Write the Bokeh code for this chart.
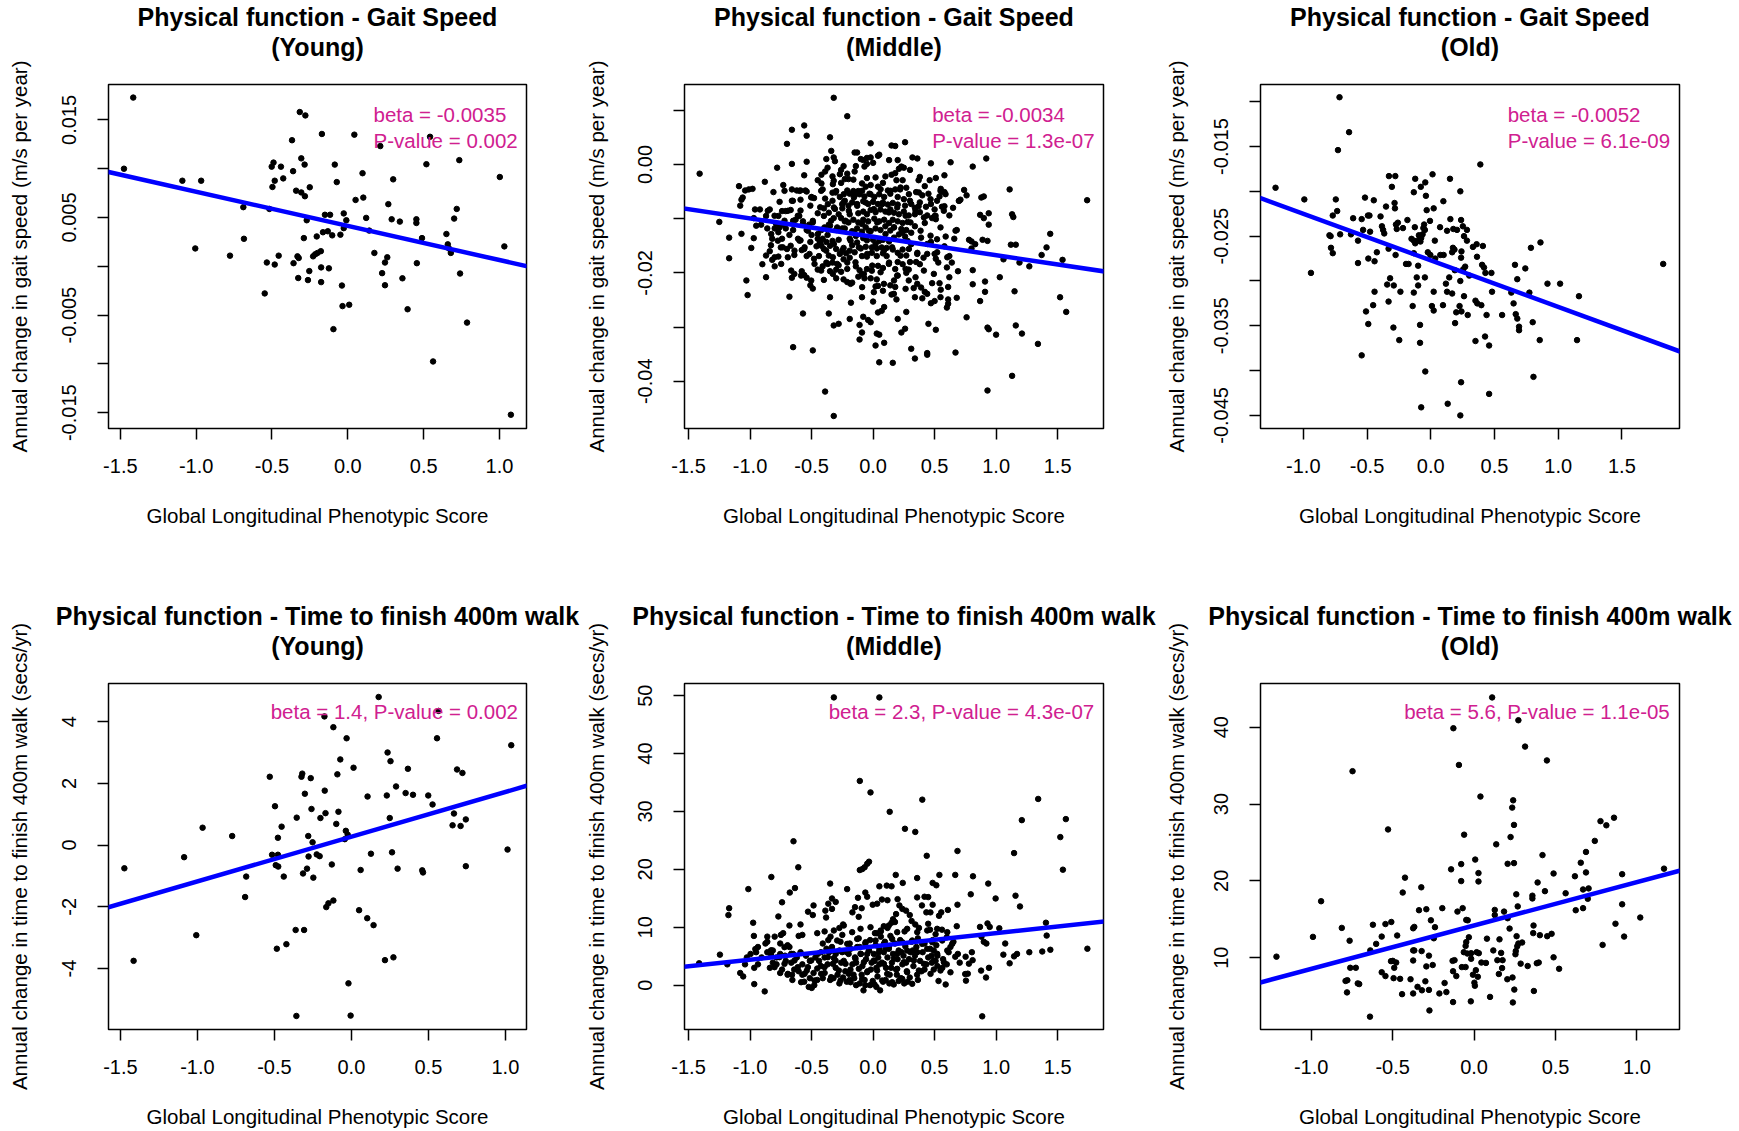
from bokeh.plotting import figure
from bokeh.models import Range1d, FixedTicker, PrintfTickFormatter, Slope, Label, Title
from bokeh.layouts import column, row
from bokeh.embed import file_html
from bokeh.resources import INLINE

FONT = "Liberation Sans"
PINK = "#D02090"

# ---------------- data (x = Global Longitudinal Phenotypic Score) ----------------
young_gait = [(-1.415, 0.01729), (-1.476, 0.0100), (-1.091, 0.00877), (-0.967, 0.00877), (-1.006, 0.00183),
    (-0.777, 0.00109), (-0.689, 0.00606), (-0.685, 0.00282), (-0.548, -0.00278), (-0.534, 0.00039),
    (-0.517, 0.00588), (-0.502, 0.01021), (-0.490, 0.01063), (-0.497, 0.00813), (-0.482, 0.00877),
    (-0.482, 0.00018), (-0.456, 0.00109), (-0.441, 0.01021), (-0.426, 0.00901), (-0.368, 0.01292),
    (-0.361, 0.00975), (-0.358, 0.00032), (-0.341, 0.00775), (-0.332, 0.00102), (-0.324, 0.00085),
    (-0.327, -0.00120), (-0.317, 0.01581), (-0.307, 0.01106), (-0.307, 0.00757), (-0.290, 0.00289),
    (-0.285, 0.01042), (-0.283, 0.00718), (-0.280, 0.01546), (-0.271, 0.00472), (-0.263, -0.00141),
    (-0.254, -0.00049), (-0.251, 0.00810), (-0.229, 0.00102), (-0.215, 0.00123), (-0.205, 0.00306),
    (-0.200, 0.00137), (-0.178, 0.00155), (-0.176, -0.00011), (-0.176, -0.00162), (-0.171, 0.01356),
    (-0.164, 0.00349), (-0.151, 0.00528), (-0.132, 0.00359), (-0.125, -0.00021), (-0.117, 0.00528),
    (-0.103, 0.00317), (-0.095, -0.00644), (-0.086, 0.01042), (-0.073, 0.00863), (-0.049, 0.00324),
    (-0.039, -0.00197), (-0.035, -0.00408), (-0.027, 0.00542), (-0.027, 0.00391), (-0.010, 0.00472),
    (0.009, -0.00394), (0.043, 0.01349), (0.051, 0.00680), (0.097, 0.00954), (0.102, 0.00704),
    (0.121, 0.00496), (0.141, 0.00366), (0.175, 0.00137), (0.214, 0.01232), (0.226, -0.00070),
    (0.245, -0.00194), (0.245, 0.00039), (0.260, 0.00092), (0.267, 0.00637), (0.289, 0.00482),
    (0.299, 0.00891), (0.343, 0.00458), (0.360, -0.00123), (0.394, -0.00440), (0.452, 0.00482),
    (0.452, 0.00444), (0.455, 0.00032), (0.489, 0.00289), (0.518, 0.01046), (0.542, 0.01327),
    (0.562, -0.00975), (0.650, 0.00331), (0.659, 0.00225), (0.667, 0.00183), (0.679, 0.00137),
    (0.701, 0.00489), (0.718, 0.00588), (0.735, 0.01088), (0.740, -0.00074), (0.786, -0.00577),
    (1.002, 0.00915), (1.032, 0.00204), (1.075, -0.01521)]

middle_gait = [(-0.32, 0.0123), (-0.21, 0.0089), (-0.56, 0.0072), (-0.66, 0.0064), (-0.54, 0.0053),
    (-0.70, 0.0038), (-0.35, 0.0050), (-0.02, 0.0039), (0.15, 0.0035), (0.18, 0.0034), (0.26, 0.0041),
    (-1.41, -0.0017), (0.92, 0.0011), (0.81, -0.0004), (0.63, 0.0004), (0.47, 0.0002), (0.58, -0.0020),
    (0.32, 0.0013), (0.36, 0.0011), (1.11, -0.0046), (1.74, -0.0066), (1.13, -0.0092), (1.14, -0.0097),
    (0.94, -0.0090), (0.87, -0.0093), (0.90, -0.0099), (0.94, -0.0111), (1.44, -0.0128), (1.41, -0.0153),
    (1.37, -0.0167), (1.54, -0.0176), (1.27, -0.0188), (1.19, -0.0181), (1.12, -0.0148), (1.16, -0.0148),
    (1.06, -0.0175), (1.03, -0.0208), (0.91, -0.0216), (0.91, -0.0235), (0.87, -0.0252), (1.15, -0.0234),
    (1.52, -0.0245), (1.57, -0.0272), (1.16, -0.0297), (1.21, -0.0312), (1.34, -0.0331), (0.94, -0.0304),
    (0.93, -0.0301), (1.00, -0.0314), (1.13, -0.0390), (0.93, -0.0417), (0.67, -0.0347), (0.76, -0.0282),
    (0.44, -0.0348), (0.44, -0.0351), (0.34, -0.0358), (0.31, -0.0340), (0.16, -0.0366), (0.05, -0.0365),
    (0.09, -0.0329), (0.02, -0.0334), (0.05, -0.0314), (0.03, -0.0312), (-0.09, -0.0310), (-0.11, -0.0323),
    (-0.11, -0.0296), (-0.08, -0.0281), (-0.04, -0.0287), (-0.02, -0.0291), (0.04, -0.0273), (0.07, -0.0270),
    (0.09, -0.0263), (0.20, -0.0285), (0.23, -0.0310), (0.26, -0.0303), (0.27, -0.0272), (0.45, -0.0294),
    (0.51, -0.0305), (-0.19, -0.0285), (-0.28, -0.0294), (-0.32, -0.0297), (-0.36, -0.0275), (-0.35, -0.0245),
    (-0.18, -0.0255), (-0.09, -0.0245), (0.00, -0.0253), (-0.39, -0.0419), (-0.32, -0.0464), (-0.65, -0.0337),
    (-0.49, -0.0343), (-0.57, -0.0275), (-0.68, -0.0244), (-1.02, -0.0241), (-1.03, -0.0214), (-0.87, -0.0208),
    (-1.17, -0.0173), (-1.17, -0.0135), (-1.25, -0.0106), (-1.07, -0.0128), (-0.99, -0.0154), (-0.97, -0.0136),
    (-0.95, -0.0113), (-0.96, -0.0083), (-1.08, -0.0076), (-1.07, -0.0065), (-1.06, -0.0061), (-1.09, -0.0040),
    (-1.04, -0.0048), (-1.01, -0.0046), (-0.98, -0.0045), (-0.88, -0.0032), (-0.81, -0.0051), (-0.84, -0.0083),
    (-0.87, -0.0095), (-0.90, -0.0184), (-0.78, -0.0006), (-0.73, -0.0038), (-0.66, 0.0001), (-0.54, 0.0005),
    (-0.56, -0.0020), (-0.76, -0.0069), (-0.79, -0.0109), (-0.80, -0.0118), (-0.77, -0.0125), (-0.74, -0.0137),
    (-0.75, -0.0153), (-0.77, -0.0170), (-0.82, -0.0176), (-0.80, -0.0188), (-0.87, -0.0168), (-0.84, -0.0160),
    (-0.83, -0.0149), (-0.71, -0.0118), (-0.71, -0.0086), (-0.67, -0.0084), (-0.66, -0.0067), (-0.66, -0.0046),
    (-0.62, -0.0048), (-0.59, -0.0048), (-0.55, -0.0048), (-0.54, -0.0050), (-0.59, -0.0065), (-0.59, -0.0085),
    (-0.63, -0.0102), (-0.65, -0.0104), (-0.61, -0.0137), (-0.59, -0.0140), (-0.58, -0.0158), (-0.64, -0.0167),
    (-0.64, -0.0202), (-0.66, -0.0209), (-0.58, -0.0197), (-0.56, -0.0204), (-0.54, -0.0209), (-0.51, -0.0223),
    (-0.49, -0.0229), (-0.45, -0.0194), (-0.48, -0.0174), (-0.44, -0.0169), (-0.40, -0.0156), (-0.43, -0.0142),
    (-0.46, -0.0151), (-0.50, -0.0130), (-0.52, -0.0111), (-0.49, -0.0104), (-0.45, -0.0090), (-0.43, -0.0079),
    (-0.40, -0.0081), (-0.39, -0.0063), (-0.41, -0.0046), (-0.42, -0.0035), (-0.39, -0.0013), (-0.37, -0.0006),
    (-0.38, 0.0010), (-0.34, 0.0025), (-0.32, 0.0013), (-0.31, 0.0006), (-0.33, -0.0022), (-0.32, -0.0030),
    (-0.33, -0.0052), (-0.33, -0.0067), (-0.31, -0.0082), (-0.32, -0.0099), (-0.35, -0.0113), (-0.37, -0.0130),
    (-0.33, -0.0141), (-0.35, -0.0150), (-0.36, -0.0168), (-0.33, -0.0181), (-0.28, -0.0186), (-0.26, -0.0198),
    (-0.30, -0.0210), (-0.35, -0.0197), (-0.40, -0.0213), (-0.24, -0.0212), (-0.21, -0.0217), (-0.17, -0.0218),
    (-0.12, -0.0207), (-0.11, -0.0195), (-0.14, -0.0188), (-0.19, -0.0172), (-0.22, -0.0164), (-0.24, -0.0154),
    (-0.28, -0.0139), (-0.25, -0.0118), (-0.23, -0.0105), (-0.19, -0.0092), (-0.26, -0.0099), (-0.25, -0.0081),
    (-0.24, -0.0070), (-0.27, -0.0060), (-0.30, -0.0049), (-0.26, -0.0034), (-0.23, -0.0027), (-0.20, -0.0027),
    (-0.16, -0.0028), (-0.15, -0.0013), (-0.14, -0.0003), (-0.15, 0.0022), (-0.13, 0.0022), (-0.10, 0.0010),
    (-0.08, 0.0008), (-0.05, 0.0012), (-0.02, 0.0013), (-0.07, -0.0004), (-0.05, 0.0001), (0.00, 0.0003),
    (0.04, 0.0016), (0.05, 0.0018), (0.13, 0.0008), (0.20, 0.0008), (0.21, -0.0008), (0.23, -0.0004),
    (0.25, -0.0006), (0.30, -0.0010), (0.38, -0.0023), (0.42, -0.0040), (0.55, -0.0045), (0.56, -0.0050),
    (0.58, -0.0051), (0.54, -0.0059), (0.70, -0.0067), (0.71, -0.0065), (0.74, -0.0047), (0.76, -0.0057),
    (0.88, -0.0061), (0.90, -0.0059), (0.56, -0.0078), (0.58, -0.0077), (0.65, -0.0080), (0.62, -0.0094),
    (0.50, -0.0083), (0.50, -0.0095), (0.48, -0.0099), (0.44, -0.0094), (0.37, -0.0077), (0.34, -0.0092),
    (0.38, -0.0088), (0.42, -0.0108), (0.51, -0.0101), (0.68, -0.0121), (0.66, -0.0137), (0.59, -0.0133),
    (0.52, -0.0138), (0.58, -0.0151), (0.47, -0.0143), (0.39, -0.0135), (0.44, -0.0165), (0.50, -0.0165),
    (0.51, -0.0174), (0.53, -0.0181), (0.41, -0.0172), (0.36, -0.0163), (0.35, -0.0180), (0.38, -0.0184),
    (0.62, -0.0169), (0.60, -0.0190), (0.69, -0.0197), (0.64, -0.0181), (0.78, -0.0139), (0.80, -0.0142),
    (0.83, -0.0147), (0.80, -0.0155), (0.89, -0.0139), (0.93, -0.0141), (0.81, -0.0195), (0.81, -0.0221),
    (0.62, -0.0208), (0.61, -0.0226), (0.68, -0.0246), (0.61, -0.0249), (0.61, -0.0257), (0.60, -0.0264),
    (0.54, -0.0219), (0.55, -0.0231), (0.48, -0.0219), (0.50, -0.0252), (0.47, -0.0256), (0.40, -0.0247),
    (0.42, -0.0235), (0.39, -0.0227), (0.34, -0.0245), (0.33, -0.0228), (0.29, -0.0214), (0.27, -0.0200),
    (0.29, -0.0194), (0.24, -0.0184), (0.20, -0.0180), (0.18, -0.0193), (0.20, -0.0205), (0.17, -0.0214),
    (0.14, -0.0223), (0.18, -0.0226), (0.15, -0.0240), (0.19, -0.0249), (0.08, -0.0233), (0.04, -0.0224),
    (0.02, -0.0225), (0.03, -0.0212), (-0.02, -0.0210), (-0.07, -0.0210), (-0.09, -0.0203), (-0.05, -0.0193),
    (-0.01, -0.0196), (0.04, -0.0187), (0.08, -0.0191), (0.13, -0.0181), (0.11, -0.0169), (0.08, -0.0164),
    (0.03, -0.0169), (-0.01, -0.0163), (-0.05, -0.0170), (-0.09, -0.0169), (-0.10, -0.0155), (-0.06, -0.0152),
    (-0.01, -0.0153), (0.03, -0.0155), (0.07, -0.0153), (0.11, -0.0154), (0.16, -0.0157), (0.20, -0.0163),
    (0.24, -0.0157), (0.27, -0.0168), (0.30, -0.0180), (0.31, -0.0147), (0.28, -0.0141), (0.26, -0.0133),
    (0.21, -0.0129), (0.17, -0.0135), (0.13, -0.0142), (0.08, -0.0139), (0.05, -0.0141), (0.00, -0.0139),
    (-0.05, -0.0140), (-0.08, -0.0136), (-0.13, -0.0144), (-0.17, -0.0149), (-0.19, -0.0159), (-0.15, -0.0162),
    (-0.14, -0.0132), (-0.19, -0.0137), (-0.17, -0.0123), (-0.13, -0.0118), (-0.09, -0.0124), (-0.06, -0.0116),
    (-0.02, -0.0123), (0.02, -0.0118), (0.06, -0.0121), (0.10, -0.0114), (0.14, -0.0122), (0.17, -0.0116),
    (0.23, -0.0119), (0.27, -0.0121), (0.31, -0.0126), (0.34, -0.0114), (0.28, -0.0106), (0.24, -0.0108),
    (0.20, -0.0105), (0.16, -0.0102), (0.13, -0.0108), (0.09, -0.0102), (0.05, -0.0105), (0.01, -0.0100),
    (-0.04, -0.0105), (-0.08, -0.0102), (-0.12, -0.0107), (-0.16, -0.0102), (-0.20, -0.0107), (-0.23, -0.0118),
    (-0.12, -0.0090), (-0.08, -0.0087), (-0.05, -0.0092), (-0.02, -0.0084), (0.02, -0.0088), (0.06, -0.0083),
    (0.10, -0.0087), (0.14, -0.0083), (0.17, -0.0089), (0.21, -0.0092), (0.25, -0.0087), (0.29, -0.0094),
    (0.34, -0.0080), (0.31, -0.0073), (0.26, -0.0076), (0.20, -0.0074), (0.16, -0.0071), (0.12, -0.0074),
    (0.08, -0.0070), (0.04, -0.0073), (0.00, -0.0069), (-0.04, -0.0073), (-0.08, -0.0068), (-0.13, -0.0073),
    (-0.17, -0.0070), (-0.20, -0.0076), (-0.15, -0.0057), (-0.11, -0.0055), (-0.07, -0.0059), (-0.03, -0.0054),
    (0.01, -0.0060), (0.05, -0.0055), (0.09, -0.0060), (0.14, -0.0054), (0.18, -0.0046), (0.22, -0.0046),
    (0.27, -0.0043), (0.20, -0.0060), (0.25, -0.0064), (0.30, -0.0067), (-0.06, -0.0041), (-0.09, -0.0035),
    (-0.02, -0.0038), (0.02, -0.0024), (0.04, -0.0041), (0.08, -0.0034), (0.12, -0.0048), (0.10, -0.0022),
    (-0.05, -0.0025), (-0.12, -0.0049), (-0.16, -0.0049), (-0.21, -0.0048), (0.35, -0.0051), (0.40, -0.0057),
    (0.45, -0.0054), (0.38, -0.0070), (0.43, -0.0078), (0.47, -0.0073), (0.52, -0.0067), (0.46, -0.0029),
    (0.51, -0.0025), (0.37, -0.0029), (0.24, -0.0029), (0.19, -0.0029), (0.15, -0.0019), (0.18, -0.0016),
    (-0.26, -0.0010), (-0.24, -0.0003), (-0.21, -0.0017), (-0.27, -0.0018), (-0.42, -0.0019), (-0.45, -0.0029),
    (-0.50, -0.0060), (-0.48, -0.0062), (-0.51, -0.0076), (-0.40, -0.0095), (-0.36, -0.0089), (-0.28, -0.0092),
    (-0.23, -0.0067), (-0.19, -0.0054), (-0.36, -0.0111), (-0.30, -0.0121), (-0.42, -0.0121), (-0.45, -0.0137),
    (-0.41, -0.0137), (-0.38, -0.0143), (-0.42, -0.0150), (-0.30, -0.0156), (-0.27, -0.0165), (-0.24, -0.0175),
    (-0.21, -0.0181), (-0.38, -0.0181), (-0.41, -0.0188), (-0.30, -0.0194), (-0.51, -0.0143), (-0.56, -0.0156),
    (-0.54, -0.0169), (-0.67, -0.0150), (-0.70, -0.0156), (-0.73, -0.0111), (-0.82, -0.0137), (-0.86, -0.0118),
    (-0.91, -0.0111), (-0.97, -0.0099), (-0.92, -0.0083), (-0.74, -0.0086), (-0.77, -0.0095), (-0.60, -0.0095),
    (-0.57, -0.0105), (-0.65, -0.0121), (-0.68, -0.0130), (-0.54, -0.0121),
    # denser core
    (-0.305, -0.00517), (-0.238, -0.00548), (-0.156, -0.00609), (-0.089, -0.00487), (-0.021, -0.00548),
    (0.061, -0.00456), (0.142, -0.00487), (0.223, -0.00425), (0.291, -0.00548), (0.372, -0.00517),
    (0.467, -0.00640), (0.548, -0.00487), (0.589, -0.00548), (-0.319, -0.00793), (-0.251, -0.00732),
    (-0.197, -0.00855), (-0.129, -0.00763), (-0.061, -0.00701), (0.006, -0.00824), (0.074, -0.00732),
    (0.128, -0.00885), (0.196, -0.00793), (0.264, -0.00946), (0.345, -0.00855), (0.413, -0.00977),
    (0.508, -0.00946), (0.575, -0.00855), (0.697, -0.00671), (-0.292, -0.01161), (-0.224, -0.01038),
    (-0.156, -0.01253), (-0.089, -0.01100), (-0.034, -0.01222), (0.033, -0.01069), (0.101, -0.01284),
    (0.169, -0.01161), (0.237, -0.01253), (0.304, -0.01069), (0.386, -0.01222), (0.467, -0.01314),
    (0.548, -0.01161), (0.670, -0.01222), (-0.319, -0.01467), (-0.251, -0.01590), (-0.183, -0.01406),
    (-0.116, -0.01529), (-0.048, -0.01651), (0.020, -0.01467), (0.088, -0.01590), (0.155, -0.01529),
    (0.223, -0.01682), (0.291, -0.01559), (0.359, -0.01651), (0.440, -0.01467), (0.521, -0.01621),
    (0.603, -0.01713), (-0.292, -0.01835), (-0.210, -0.01927), (-0.143, -0.01805), (-0.075, -0.02019),
    (-0.007, -0.01866), (0.061, -0.01988), (0.128, -0.01835), (0.196, -0.02050), (0.264, -0.01927),
    (0.345, -0.02081), (0.413, -0.01958), (0.494, -0.02019), (-0.183, -0.02203), (-0.089, -0.02264),
    (0.006, -0.02356), (0.088, -0.02203), (0.169, -0.02387), (0.264, -0.02295), (0.359, -0.02203),
    (0.440, -0.02387), (0.548, -0.02448), (-0.856, -0.00855), (-0.801, -0.00946), (-0.761, -0.01161),
    (-0.720, -0.01038), (-0.693, -0.00855), (-0.652, -0.00671), (-0.612, -0.00946), (-0.571, -0.01100),
    (-0.530, -0.01222), (-0.490, -0.01069), (-0.449, -0.01284), (-0.395, -0.01161), (-0.341, -0.01038),
    (-0.828, -0.01284), (-0.774, -0.01406), (-0.734, -0.01529), (-0.693, -0.01713), (-0.639, -0.01590),
    (-0.598, -0.01406), (-0.557, -0.01529), (-0.517, -0.01651), (-0.476, -0.01835), (-0.436, -0.01467),
    (-0.381, -0.01590), (-0.327, -0.01713), (-0.801, -0.01713), (-0.747, -0.01835), (-0.666, -0.01958),
    (-0.585, -0.02050), (-0.503, -0.02142), (-0.422, -0.01958), (-0.368, -0.01835), (-0.327, -0.02019),
    (-0.720, -0.00487), (-0.598, -0.00487), (-0.503, -0.00609), (-0.422, -0.00487), (-0.368, -0.00732),
    (-0.327, -0.00364)]

old_gait = [(-1.218, -0.0196), (-0.992, -0.0209), (-0.940, -0.0291), (-0.745, -0.0209), (-0.716, -0.0095),
    (-0.728, -0.0154), (-0.641, -0.0134), (-0.734, -0.0222), (-0.769, -0.0227), (-0.795, -0.0249),
    (-0.786, -0.0250), (-0.711, -0.0248), (-0.783, -0.0263), (-0.769, -0.0269), (-0.626, -0.0248),
    (-0.609, -0.0230), (-0.542, -0.0231), (-0.531, -0.0243), (-0.571, -0.0255), (-0.516, -0.0207),
    (-0.493, -0.0227), (-0.481, -0.0227), (-0.447, -0.0210), (-0.476, -0.0245), (-0.394, -0.0228),
    (-0.383, -0.0239), (-0.374, -0.0243), (-0.365, -0.0247), (-0.351, -0.0217), (-0.423, -0.0268),
    (-0.441, -0.0278), (-0.490, -0.0275), (-0.571, -0.0280), (-0.331, -0.0264), (-0.328, -0.0183),
    (-0.278, -0.0183), (-0.305, -0.0195), (-0.284, -0.0213), (-0.281, -0.0219), (-0.273, -0.0237),
    (-0.267, -0.0242), (-0.258, -0.0235), (-0.218, -0.0241), (-0.183, -0.0232), (-0.276, -0.0271),
    (-0.319, -0.0297), (-0.342, -0.0304), (-0.290, -0.0305), (-0.331, -0.0323), (-0.441, -0.0312),
    (-0.452, -0.0327), (-0.508, -0.0334), (-0.490, -0.0348), (-0.542, -0.0383), (-0.293, -0.0352),
    (-0.247, -0.0366), (-0.238, -0.0312), (-0.174, -0.0281), (-0.133, -0.0201), (-0.122, -0.0186),
    (-0.078, -0.0195), (-0.043, -0.0190), (-0.038, -0.0205), (-0.032, -0.0221), (0.023, -0.0219),
    (0.014, -0.0181), (-0.006, -0.0233), (-0.052, -0.0237), (-0.058, -0.0241), (-0.046, -0.0243),
    (-0.125, -0.0240), (-0.151, -0.0253), (-0.133, -0.0255), (-0.122, -0.0258), (-0.104, -0.0255),
    (-0.081, -0.0256), (-0.075, -0.0252), (-0.093, -0.0249), (-0.064, -0.0248), (-0.133, -0.0269),
    (-0.099, -0.0283), (-0.110, -0.0296), (-0.099, -0.0305), (-0.046, -0.0296), (-0.133, -0.0313),
    (-0.142, -0.0328), (-0.084, -0.0349), (-0.084, -0.0369), (-0.043, -0.0401), (-0.075, -0.0441),
    (0.023, -0.0312), (0.009, -0.0328), (0.023, -0.0333), (0.096, -0.0327), (-0.023, -0.0268),
    (-0.003, -0.0271), (0.032, -0.0255), (0.035, -0.0275), (0.075, -0.0271), (0.101, -0.0271),
    (0.073, -0.0240), (0.099, -0.0211), (0.151, -0.0186), (0.128, -0.0244), (0.154, -0.0231),
    (0.177, -0.0242), (0.206, -0.0243), (0.174, -0.0263), (0.168, -0.0268), (0.186, -0.0265),
    (0.232, -0.0200), (0.238, -0.0232), (0.252, -0.0239), (0.284, -0.0243), (0.261, -0.0250),
    (0.284, -0.0255), (0.241, -0.0267), (0.238, -0.0274), (0.189, -0.0288), (0.270, -0.0284),
    (0.255, -0.0287), (0.232, -0.0300), (0.119, -0.0303), (0.145, -0.0296), (0.128, -0.0312),
    (0.168, -0.0314), (0.261, -0.0317), (0.226, -0.0328), (0.200, -0.0335), (0.241, -0.0334),
    (0.290, -0.0338), (0.191, -0.0347), (0.238, -0.0413), (0.133, -0.0437), (0.232, -0.0450),
    (0.331, -0.0262), (0.360, -0.0259), (0.409, -0.0261), (0.363, -0.0273), (0.389, -0.0170),
    (0.403, -0.0282), (0.418, -0.0285), (0.429, -0.0291), (0.476, -0.0291), (0.351, -0.0322),
    (0.365, -0.0325), (0.397, -0.0327), (0.481, -0.0312), (0.438, -0.0338), (0.560, -0.0338),
    (0.351, -0.0367), (0.426, -0.0362), (0.458, -0.0372), (0.458, -0.0426), (0.632, -0.0313),
    (0.650, -0.0325), (0.667, -0.0337), (0.679, -0.0342), (0.693, -0.0351), (0.693, -0.0355),
    (0.661, -0.0282), (0.679, -0.0298), (0.742, -0.0286), (0.774, -0.0313), (0.786, -0.0263),
    (0.861, -0.0257), (0.800, -0.0346), (0.855, -0.0366), (0.806, -0.0407), (0.916, -0.0303),
    (1.015, -0.0303), (1.163, -0.0317), (1.148, -0.0366), (1.824, -0.0281), (0.302, -0.0294),
    (-0.194, -0.0281)]

young_walk = [(-1.474, -0.753), (-1.414, -3.753), (-1.086, -0.393), (-1.007, -2.921), (-0.966, 0.562),
    (-0.774, 0.292), (-0.690, -1.685), (-0.683, -1.022), (-0.530, 2.213), (-0.515, -0.315), (-0.496, 1.258),
    (-0.491, -0.652), (-0.484, -3.360), (-0.477, 0.236), (-0.477, -0.315), (-0.475, -0.697), (-0.453, 0.596),
    (-0.439, -1.022), (-0.422, -3.213), (-0.362, -2.753), (-0.357, -5.539), (-0.355, 0.888), (-0.324, 2.213),
    (-0.319, 2.315), (-0.314, -0.921), (-0.307, -2.753), (-0.302, 1.663), (-0.288, -0.764), (-0.280, 0.292),
    (-0.278, -0.371), (-0.264, 2.169), (-0.259, 1.169), (-0.252, 0.090), (-0.247, -1.056), (-0.225, -0.303),
    (-0.206, -0.360), (-0.201, 0.876), (-0.175, 4.169), (-0.173, 1.764), (-0.168, 1.034), (-0.163, -2.011),
    (-0.149, -1.888), (-0.127, -0.629), (-0.117, 3.820), (-0.117, -1.798), (-0.098, 0.685), (-0.091, 2.292),
    (-0.084, 1.079), (-0.072, 2.775), (-0.043, 0.191), (-0.036, 0.461), (-0.031, 3.461), (-0.024, 0.337),
    (-0.019, -4.483), (-0.005, -5.528), (0.014, 2.506), (0.050, -2.112), (0.060, -0.809), (0.103, -2.371),
    (0.105, 1.573), (0.127, -0.281), (0.144, -2.596), (0.177, 4.798), (0.218, -3.730), (0.230, 1.607),
    (0.235, 3.000), (0.249, 0.876), (0.254, 2.719), (0.264, -0.236), (0.273, -3.640), (0.290, 1.899),
    (0.300, -0.764), (0.352, 1.685), (0.367, 2.472), (0.400, 1.629), (0.460, -0.820), (0.465, -0.888),
    (0.499, 1.607), (0.527, 1.315), (0.556, 3.461), (0.566, 4.348), (0.657, 0.640), (0.666, 1.022),
    (0.686, 2.449), (0.709, 0.618), (0.721, 2.337), (0.743, 0.831), (0.743, -0.685), (1.014, -0.146),
    (1.038, 3.236)]

middle_walk = [(-0.319, 49.70), (0.051, 49.70), (-0.108, 35.27), (-0.021, 33.29), (0.400, 32.04),
    (0.135, 29.94), (0.259, 27.01), (0.343, 26.47), (-0.647, 24.85), (0.686, 23.17), (0.436, 22.34),
    (1.342, 32.16), (1.567, 28.68), (1.209, 28.50), (1.522, 25.57), (1.146, 22.81), (1.543, 19.94),
    (-0.608, 20.36), (-0.033, 21.32), (-0.048, 20.96), (-0.069, 20.36), (-0.087, 20.06), (-0.108, 19.88),
    (-0.827, 18.68), (0.184, 19.04), (0.358, 18.50), (0.539, 19.04), (0.668, 19.04), (0.812, 18.80),
    (-0.349, 17.54), (0.051, 17.07), (0.111, 17.19), (0.150, 17.07), (0.241, 17.66), (0.484, 17.66),
    (0.514, 17.25), (0.936, 17.54), (-1.014, 16.59), (-0.635, 16.77), (-0.677, 15.99), (-0.211, 16.59),
    (0.794, 15.69), (1.158, 15.45), (0.996, 14.97), (1.194, 13.59), (-1.170, 13.29), (-1.176, 12.10),
    (-0.740, 14.31), (-0.770, 11.86), (-0.975, 10.78), (-0.969, 8.50), (-0.957, 6.23), (-1.245, 5.27),
    (-1.414, 3.77), (-1.185, 3.59), (-0.966, 0.18), (-0.881, -1.08), (0.887, -5.39), (1.742, 6.29),
    (1.405, 10.78), (1.411, 8.56), (1.441, 6.11), (1.375, 5.81), (1.270, 5.69), (1.074, 7.19),
    (1.059, 5.27), (1.110, 3.77), (1.146, 4.97), (1.170, 5.39), (1.026, 9.82), (0.930, 10.66),
    (0.948, 10.06), (0.869, 10.06), (0.881, 8.38), (0.900, 7.49), (0.921, 7.19), (0.942, 2.99),
    (0.878, 2.51), (0.918, 1.32), (0.770, 1.98), (0.755, 0.78), (0.749, 1.92), (0.803, 5.69),
    (0.779, 3.71), (0.809, 4.31), (0.752, 4.91), (0.689, 5.39), (0.704, 3.89), (0.668, 4.91),
    (0.629, 6.59), (0.614, 5.69), (0.653, 7.49), (0.680, 10.18), (0.686, 13.89), (0.608, 12.99),
    (0.554, 12.57), (0.536, 11.98), (0.560, 9.58), (0.599, 8.26), (0.590, 0.12), (0.532, 0.72),
    (0.629, 2.22), (0.563, 2.99), (0.523, 3.29), (0.493, 2.69), (0.508, 4.19), (0.475, 5.09),
    (0.493, 5.99), (0.514, 6.89), (0.484, 7.78), (0.508, 8.80), (0.463, 9.58), (0.448, 10.60),
    (0.433, 12.57), (0.466, 12.57), (0.484, 13.89), (0.397, 13.77), (0.418, 15.27), (0.448, 15.21),
    (0.358, 15.15), (0.364, 0.90), (0.298, 12.10), (0.313, 11.08), (0.343, 10.48), (0.373, 9.88),
    (0.268, 12.87), (0.238, 13.17), (0.214, 13.77), (0.199, 14.85), (0.187, 12.28), (0.178, 10.90),
    (0.162, 11.38), (0.150, 10.78), (0.117, 9.88), (0.087, 10.18), (0.063, 9.28), (0.027, 8.98),
    (0.117, 14.67), (0.072, 14.79), (0.033, 14.07), (-0.003, 13.89), (-0.048, 15.27), (-0.063, 15.99),
    (-0.123, 15.09), (-0.117, 11.80), (-0.093, 13.29), (-0.147, 13.47), (-0.168, 12.57), (-0.244, 10.48),
    (-0.274, 9.88), (-0.304, 14.37), (-0.334, 14.97), (-0.364, 14.07), (-0.334, 13.17), (-0.382, 11.68),
    (-0.388, 12.87), (-0.394, 9.28), (-0.454, 8.98), (-0.484, 13.77), (-0.529, 12.69), (-0.490, 12.10),
    (-0.590, 10.48), (-0.575, 8.68), (-0.605, 8.50), (-0.680, 10.30), (-0.695, 6.89), (-0.680, 6.59),
    (-0.755, 7.19), (-0.731, 8.98), (-0.749, 8.68), (-0.800, 8.38), (-0.815, 5.99), (-0.830, 5.39),
    (-0.860, 5.69), (-0.860, 7.49), (-0.906, 4.79), (-0.839, 2.99), (-0.785, 3.59), (-0.740, 2.69),
    (-0.755, 2.10), (-0.710, 4.19), (-0.665, 3.89), (-0.650, 5.39), (-0.620, 4.79), (-0.659, 1.80),
    (-0.656, 0.90), (-0.590, 5.69), (-0.575, 3.59), (-0.545, 5.09), (-0.539, 2.51), (-0.560, 0.60),
    (-0.523, -0.30), (-0.499, -0.48), (-0.478, 0.00), (-0.454, 2.87), (-0.484, 2.10), (-0.439, 4.19),
    (-0.424, 5.69), (-0.409, 7.19), (-0.394, 4.79), (-0.370, 3.59), (-0.358, 5.69), (-0.364, 7.78),
    (-0.346, 8.38), (-0.334, 6.59), (-0.319, 4.67), (-0.304, 2.99), (-0.322, 1.20), (-0.289, 1.80),
    (-0.274, 5.99), (-0.265, 7.49), (-0.250, 8.68), (-0.238, 4.19), (-0.226, 2.40), (-0.214, 0.60),
    (-0.199, 5.39), (-0.190, 7.19), (-0.168, 3.59), (-0.159, 1.80), (-0.138, 0.00), (-0.147, 4.79),
    (-0.129, 6.59), (-0.117, 8.08), (-0.099, 5.39), (-0.087, 3.29), (-0.078, -0.90), (-0.069, 0.90),
    (-0.063, 7.19), (-0.057, 4.49), (-0.045, 2.40), (-0.033, 5.99), (-0.024, 7.78), (-0.012, 3.89),
    (-0.003, 0.72), (0.006, 5.39), (0.015, 8.98), (0.021, 6.89), (0.027, 2.99), (0.036, 1.50),
    (0.042, 4.79), (0.057, -0.90), (0.051, 6.29), (0.063, 8.38), (0.072, 3.89), (0.081, 0.60),
    (0.087, 5.69), (0.096, 7.49), (0.105, 2.99), (0.117, 4.79), (0.129, 6.59), (0.135, 1.80),
    (0.141, 8.50), (0.153, 3.89), (0.162, 5.39), (0.168, 0.12), (0.178, 7.19), (0.187, 2.69),
    (0.199, 4.49), (0.208, 5.99), (0.220, 7.78), (0.226, 1.20), (0.238, 3.59), (0.247, 5.09),
    (0.256, 9.28), (0.262, 6.71), (0.274, 2.40), (0.280, 0.60), (0.292, 4.49), (0.304, 5.69),
    (0.313, 7.49), (0.328, 3.29), (0.340, 5.09), (0.352, 6.59), (0.364, 8.08), (0.382, 4.19),
    (0.394, 2.40), (0.403, 5.69), (0.418, 7.19), (0.433, 3.59), (0.448, 4.79), (0.463, 6.29),
    (-0.514, 4.19), (-0.469, 4.79), (-0.424, 3.29), (-0.379, 6.29), (-0.304, 5.39), (-0.259, 3.89),
    (-0.214, 5.69), (-0.184, 2.69), (-0.138, 3.89), (-0.108, 6.59), (-0.093, 1.80), (-0.048, 5.39),
    (-0.018, 2.69), (0.012, 4.19), (0.051, 3.59), (0.102, 6.29), (0.147, 2.99), (0.193, 1.80),
    (0.232, 5.69), (0.268, 3.89), (0.322, 5.99), (0.358, 1.80), (0.418, 2.69), (0.478, 3.89),
    (0.523, 5.09), (0.569, 4.49), (0.599, 3.59), (-1.056, 1.50), (-1.080, 2.10), (-1.041, 3.59),
    (-1.026, 4.79), (-0.996, 5.39), (-0.951, 5.69), (-0.936, 3.59), (-0.875, 7.19), (-0.860, 8.38),
    (-0.830, 5.99), (-0.785, 4.79), (-0.716, 5.09), (-0.641, 2.69), (-0.605, 2.40), (-0.695, 1.80),
    (-0.575, 1.80), (-0.514, 1.20), (-0.454, 0.90), (-0.409, 1.20), (-0.394, 2.10), (-0.349, 0.90),
    (-0.274, 0.30), (-0.244, 1.32), (-0.190, 0.90), (-0.153, 1.20), (-0.108, 0.30), (-0.063, 0.00),
    (-0.024, 0.00), (0.012, 0.12), (0.027, -0.30), (0.102, 0.90), (0.132, 0.30), (0.208, 0.72),
    (0.253, 0.30), (0.298, 1.32), (-0.966, 2.99), (-0.936, 6.59), (-0.815, 3.89), (-0.755, 5.39),
    # denser core
    (-0.319, 9.44), (-0.238, 10.30), (-0.170, 9.15), (-0.102, 9.73), (-0.021, 10.01), (0.061, 9.44),
    (0.128, 10.30), (0.196, 9.15), (0.277, 9.73), (0.359, 9.15), (0.440, 9.44), (0.521, 9.73),
    (0.603, 9.15), (-0.292, 7.71), (-0.210, 7.13), (-0.129, 7.98), (-0.061, 7.42), (0.020, 7.71),
    (0.088, 7.13), (0.155, 7.98), (0.237, 7.42), (0.318, 7.71), (0.399, 7.13), (0.481, 7.42),
    (0.562, 7.71), (0.643, 7.13), (-0.332, 5.98), (-0.251, 5.70), (-0.183, 6.27), (-0.102, 5.41),
    (-0.034, 5.98), (0.047, 5.70), (0.128, 6.27), (0.196, 5.41), (0.277, 5.98), (0.359, 5.70),
    (0.440, 6.27), (0.521, 5.41), (0.603, 5.98), (-0.305, 4.26), (-0.224, 3.68), (-0.143, 4.54),
    (-0.075, 3.97), (0.006, 4.26), (0.088, 3.68), (0.169, 4.54), (0.250, 3.97), (0.332, 4.26),
    (0.413, 3.68), (0.494, 4.26), (0.575, 3.97), (-0.278, 2.53), (-0.197, 1.95), (-0.116, 2.82),
    (-0.048, 2.24), (0.033, 2.53), (0.115, 1.95), (0.196, 2.82), (0.277, 2.24), (0.372, 2.53),
    (0.467, 1.95), (0.548, 2.53), (-0.265, 0.80), (-0.183, 0.51), (-0.089, 1.09), (-0.007, 0.23),
    (0.074, 0.80), (0.155, 0.51), (0.237, 1.09), (0.318, 0.23), (-0.828, 5.98), (-0.761, 4.83),
    (-0.720, 3.68), (-0.666, 5.41), (-0.612, 3.11), (-0.557, 1.95), (-0.503, 4.26), (-0.449, 5.41),
    (-0.395, 3.11), (-0.341, 1.38), (-0.801, 3.11), (-0.693, 1.95), (-0.585, 0.51), (-0.476, 0.80),
    (-0.368, 4.83), (-0.720, 6.56), (-0.639, 4.26), (-0.530, 3.11), (-0.422, 1.95), (-0.327, 3.68)]

old_walk = [(-1.213, 10.14), (-0.989, 12.71), (-0.939, 17.35), (-0.812, 13.88), (-0.764, 12.21),
    (-0.746, 34.27), (-0.760, 8.69), (-0.726, 8.69), (-0.789, 6.98), (-0.778, 7.07), (-0.780, 5.49),
    (-0.714, 6.66), (-0.705, 6.57), (-0.639, 2.33), (-0.637, 10.95), (-0.621, 14.29), (-0.601, 11.80),
    (-0.567, 12.75), (-0.567, 8.11), (-0.544, 7.61), (-0.544, 14.38), (-0.528, 26.69), (-0.508, 14.65),
    (-0.510, 9.55), (-0.499, 9.59), (-0.494, 7.34), (-0.490, 8.69), (-0.478, 9.37), (-0.472, 12.89),
    (-0.454, 7.25), (-0.442, 5.26), (-0.438, 18.48), (-0.424, 20.42), (-0.390, 7.20), (-0.374, 13.83),
    (-0.367, 14.01), (-0.374, 10.95), (-0.367, 10.95), (-0.374, 9.64), (-0.374, 5.35), (-0.347, 6.21),
    (-0.338, 16.18), (-0.324, 19.16), (-0.322, 10.86), (-0.320, 5.76), (-0.299, 6.93), (-0.293, 16.31),
    (-0.293, 8.87), (-0.277, 10.27), (-0.274, 3.14), (-0.277, 5.81), (-0.265, 14.87), (-0.254, 9.05),
    (-0.247, 12.53), (-0.240, 13.97), (-0.213, 5.35), (-0.195, 16.45), (-0.181, 6.71), (-0.170, 5.53),
    (-0.141, 21.50), (-0.132, 9.59), (-0.129, 8.24), (-0.127, 39.86), (-0.120, 9.68), (-0.129, 4.23),
    (-0.109, 7.61), (-0.102, 16.00), (-0.093, 35.08), (-0.079, 22.18), (-0.079, 19.97), (-0.070, 16.45),
    (-0.075, 8.78), (-0.061, 26.01), (-0.063, 10.72), (-0.052, 8.78), (-0.048, 14.92), (-0.039, 14.87),
    (-0.041, 10.54), (-0.052, 11.53), (-0.048, 12.03), (-0.032, 12.66), (-0.018, 10.59), (-0.018, 9.86),
    (-0.020, 4.32), (-0.007, 7.79), (0.007, 22.77), (0.002, 6.75), (0.005, 6.35), (0.011, 8.38),
    (0.016, 10.72), (0.023, 7.52), (0.027, 21.01), (0.027, 19.92), (0.029, 10.59), (0.039, 30.97),
    (0.045, 9.37), (0.073, 9.32), (0.079, 12.48), (0.098, 4.90), (0.111, 43.87), (0.118, 10.95),
    (0.127, 16.22), (0.127, 15.55), (0.136, 24.75), (0.143, 9.68), (0.152, 7.88), (0.156, 12.39),
    (0.166, 10.63), (0.175, 9.68), (0.172, 8.65), (0.184, 16.00), (0.204, 7.20), (0.206, 15.14),
    (0.218, 13.79), (0.206, 22.22), (0.224, 25.70), (0.234, 29.53), (0.240, 30.48), (0.245, 27.28),
    (0.245, 22.31), (0.236, 7.43), (0.238, 4.18), (0.247, 5.85), (0.254, 10.45), (0.256, 10.86),
    (0.261, 12.80), (0.259, 18.25), (0.268, 16.68), (0.265, 11.49), (0.272, 11.85), (0.286, 9.23),
    (0.295, 11.98), (0.313, 37.47), (0.272, 40.90), (0.329, 8.92), (0.358, 17.71), (0.358, 18.07),
    (0.365, 14.19), (0.363, 13.20), (0.367, 5.67), (0.390, 19.79), (0.397, 9.37), (0.385, 9.28),
    (0.404, 12.93), (0.420, 23.35), (0.435, 18.66), (0.447, 35.67), (0.449, 12.80), (0.476, 13.11),
    (0.488, 20.96), (0.488, 10.05), (0.522, 8.56), (0.562, 18.39), (0.619, 20.60), (0.624, 16.18),
    (0.655, 22.36), (0.669, 18.88), (0.669, 16.45), (0.687, 23.76), (0.687, 21.10), (0.698, 17.67),
    (0.703, 19.02), (0.741, 25.20), (0.776, 27.77), (0.789, 11.67), (0.812, 27.23), (0.859, 28.22),
    (0.868, 14.42), (0.909, 20.87), (0.909, 16.95), (0.921, 12.75), (1.020, 15.23), (1.166, 21.59)]

# regression lines (gradient, intercept) and annotation texts
fits = {
    "young_gait": (-0.0035, 0.00414),
    "middle_gait": (-0.0034, -0.01334),
    "old_gait": (-0.0052, -0.0277),
    "young_walk": (1.45, 0.27),
    "middle_walk": (2.29, 6.68),
    "old_walk": (5.65, 14.19),
}
notes = {
    "young_gait": ["beta = -0.0035", "P-value = 0.002"],
    "middle_gait": ["beta = -0.0034", "P-value = 1.3e-07"],
    "old_gait": ["beta = -0.0052", "P-value = 6.1e-09"],
    "young_walk": ["beta = 1.4, P-value = 0.002"],
    "middle_walk": ["beta = 2.3, P-value = 4.3e-07"],
    "old_walk": ["beta = 5.6, P-value = 1.1e-05"],
}
group_names = ["(Young)", "(Middle)", "(Old)"]
gait_title = "Physical function - Gait Speed"
walk_title = "Physical function - Time to finish 400m walk"
xlabel = "Global Longitudinal Phenotypic Score"
gait_ylabel = "Annual change in gait speed (m/s per year)"
walk_ylabel = "Annual change in time to finish 400m walk (secs/yr)"


def panel(key, pts, title1, title2, ylabel, xr, yr, xticks, yticks, yminor, yfmt,
          width, height, borders, note_pos, ylab_standoff):
    left, right, top, bottom = borders
    p = figure(width=width, height=height, x_range=Range1d(*xr), y_range=Range1d(*yr),
               output_backend="svg", toolbar_location=None, title=None,
               min_border_left=left, min_border_right=right,
               min_border_top=top, min_border_bottom=bottom,
               background_fill_color="white", border_fill_color="white")
    # second title line nearest the frame (an empty trailing line lifts it), first line above
    p.add_layout(Title(text=title2 + "\n", align="center", text_font=FONT,
                       text_font_size="25px", text_font_style="bold", text_color="black",
                       text_line_height=0.84, standoff=0), "above")
    p.add_layout(Title(text=title1, align="center", text_font=FONT,
                       text_font_size="25px", text_font_style="bold", text_color="black",
                       text_line_height=1.0, standoff=0), "above")
    p.xgrid.visible = False
    p.ygrid.visible = False
    p.outline_line_color = "black"
    p.outline_line_width = 1.5
    p.outline_line_alpha = 1.0

    xs = [a for a, b in pts]
    ys = [b for a, b in pts]
    p.scatter(xs, ys, size=5.5, color="black", marker="circle")

    g, c = fits[key]
    p.add_layout(Slope(gradient=g, y_intercept=c, line_color="blue", line_width=4.5))

    yspan = yr[1] - yr[0]
    fx, fy, dy = note_pos
    for i, t in enumerate(notes[key]):
        p.add_layout(Label(x=xr[0] + fx * (xr[1] - xr[0]),
                           y=yr[1] - (fy + i * dy) * yspan,
                           text=t, text_color=PINK, text_font=FONT, text_font_size="20.5px",
                           text_align="left", text_baseline="middle"))

    xa = p.xaxis[0]
    xa.ticker = FixedTicker(ticks=xticks, minor_ticks=[])
    xa.formatter = PrintfTickFormatter(format="%.1f")
    xa.axis_label = xlabel
    xa.major_label_standoff = 19
    xa.axis_label_standoff = 28

    ya = p.yaxis[0]
    ya.ticker = FixedTicker(ticks=yticks, minor_ticks=yminor)
    ya.formatter = PrintfTickFormatter(format=yfmt)
    ya.axis_label = ylabel
    ya.major_label_orientation = "vertical"
    ya.major_label_standoff = 21
    ya.axis_label_standoff = ylab_standoff

    for ax in (xa, ya):
        ax.axis_line_color = None
        ax.major_tick_line_color = "black"
        ax.major_tick_line_width = 1.5
        ax.major_tick_out = 11
        ax.major_tick_in = 0
        ax.minor_tick_line_color = "black"
        ax.minor_tick_line_width = 1.5
        ax.minor_tick_out = 11
        ax.minor_tick_in = 0
        ax.major_label_text_font = FONT
        ax.major_label_text_font_size = "20px"
        ax.major_label_text_color = "black"
        ax.axis_label_text_font = FONT
        ax.axis_label_text_font_size = "20.5px"
        ax.axis_label_text_font_style = "normal"
        ax.axis_label_text_color = "black"
    return p


p1 = panel("young_gait", young_gait, gait_title, group_names[0], gait_ylabel,
           (-1.578, 1.178), (-0.01662, 0.01863), [-1.5, -1.0, -0.5, 0.0, 0.5, 1.0],
           [-0.015, -0.005, 0.005, 0.015], [-0.01, 0.0, 0.01], "%.3f",
           580, 590, (108, 54, 83, 162), (0.634, 0.087, 0.075), 29)
p2 = panel("middle_gait", middle_gait, gait_title, group_names[1], gait_ylabel,
           (-1.533, 1.873), (-0.04871, 0.01475), [-1.5, -1.0, -0.5, 0.0, 0.5, 1.0, 1.5],
           [-0.04, -0.02, 0.0], [-0.03, -0.01, 0.01], "%.2f",
           580, 590, (104, 57, 83, 162), (0.591, 0.087, 0.075), 28)
p3 = panel("old_gait", old_gait, gait_title, group_names[2], gait_ylabel,
           (-1.336, 1.952), (-0.04646, -0.00808), [-1.0, -0.5, 0.0, 0.5, 1.0, 1.5],
           [-0.045, -0.035, -0.025, -0.015], [-0.04, -0.03, -0.02, -0.01], "%.3f",
           579, 590, (100, 60, 83, 162), (0.590, 0.087, 0.075), 24)
p4 = panel("young_walk", young_walk, walk_title, group_names[0], walk_ylabel,
           (-1.577, 1.137), (-5.978, 5.236), [-1.5, -1.0, -0.5, 0.0, 0.5, 1.0],
           [-4, -2, 0, 2, 4], [], "%d",
           580, 541, (108, 54, 93, 102), (0.388, 0.080, 0.075), 29)
p5 = panel("middle_walk", middle_walk, walk_title, group_names[1], walk_ylabel,
           (-1.533, 1.873), (-7.66, 52.1), [-1.5, -1.0, -0.5, 0.0, 0.5, 1.0, 1.5],
           [0, 10, 20, 30, 40, 50], [], "%d",
           580, 541, (104, 57, 93, 102), (0.344, 0.080, 0.075), 28)
p6 = panel("old_walk", old_walk, walk_title, group_names[2], walk_ylabel,
           (-1.311, 1.261), (0.66, 45.68), [-1.0, -0.5, 0.0, 0.5, 1.0],
           [10, 20, 30, 40], [], "%d",
           579, 541, (100, 60, 93, 102), (0.343, 0.080, 0.075), 24)

layout = column(row(p1, p2, p3), row(p4, p5, p6))
open("out.html", "w").write(file_html(layout, INLINE))
